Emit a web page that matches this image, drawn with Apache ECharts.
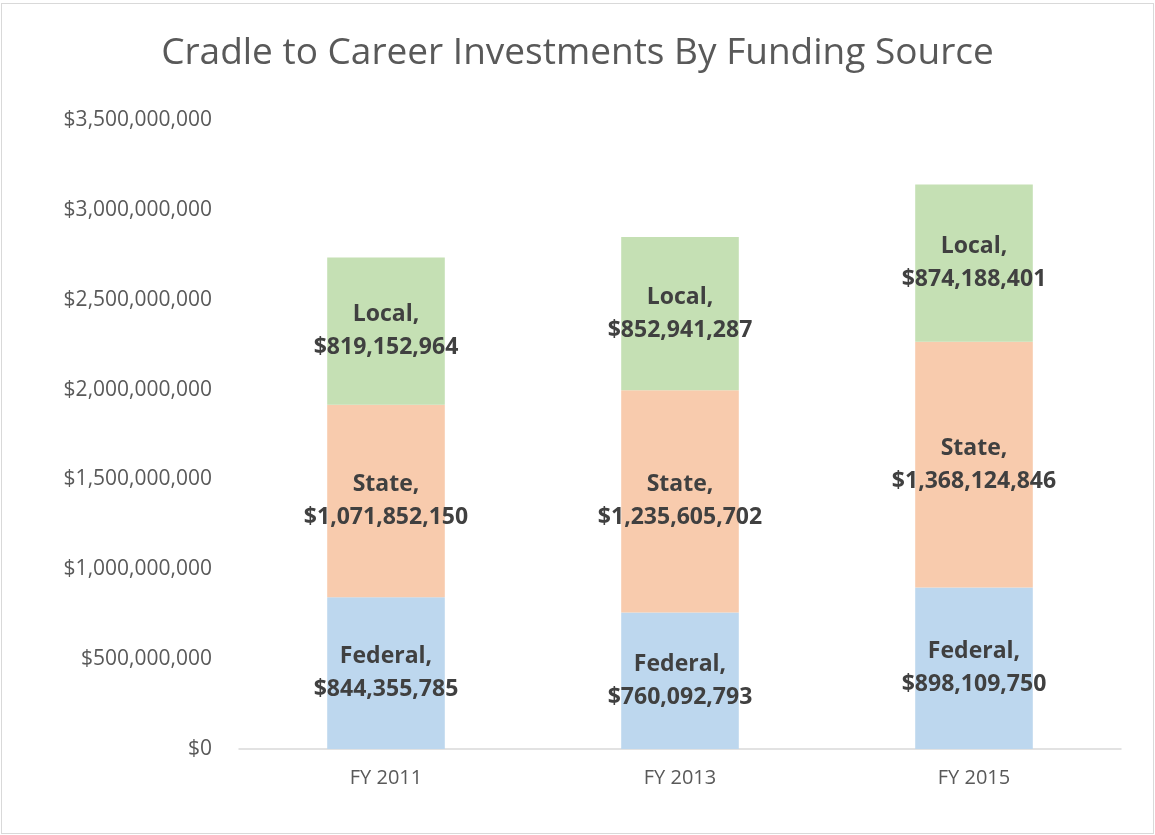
<!DOCTYPE html>
<html>
<head>
<meta charset="utf-8">
<script src="https://cdn.jsdelivr.net/npm/echarts@6/dist/echarts.min.js"></script>
<style>
  html, body { margin: 0; padding: 0; background: #fff; }
  #chart { position: absolute; left: 1px; top: 3px; width: 1151px; height: 829px; border: 1px solid #d9d9d9; }
</style>
</head>
<body>
<div id="chart"></div>
<script>
const years = ['FY 2011', 'FY 2013', 'FY 2015']
const federal = [844355785, 760092793, 898109750]
const state = [1071852150, 1235605702, 1368124846]
const local = [819152964, 852941287, 874188401]

const fmt = (v) => '$' + Math.round(v).toLocaleString('en-US')

const chart = echarts.init(document.getElementById('chart'))

const labelStyle = {
  show: true,
  position: 'inside',
  fontFamily: 'Open Sans',
  fontWeight: 'bold',
  fontSize: 23,
  lineHeight: 33,
  color: '#404040'
}

const makeSeries = (name, data, color) => ({
  name,
  type: 'bar',
  stack: 'total',
  data,
  barWidth: '40%',
  itemStyle: { color },
  label: { ...labelStyle, formatter: (p) => name + ',\n' + fmt(p.value) }
})

chart.setOption({
  animation: false,
  title: {
    text: 'Cradle to Career Investments By Funding Source',
    left: 'center',
    top: 26,
    textStyle: { fontFamily: 'Open Sans', fontWeight: 'normal', fontSize: 37, color: '#595959' }
  },
  grid: { left: 237, right: 32, top: 116, bottom: 84 },
  xAxis: {
    type: 'category',
    data: years,
    axisLine: { lineStyle: { color: '#d9d9d9', width: 1.5 } },
    axisTick: { show: false },
    axisLabel: { fontFamily: 'Open Sans', fontSize: 20, color: '#595959', margin: 19 }
  },
  yAxis: {
    type: 'value',
    min: 0,
    max: 3500000000,
    interval: 500000000,
    splitLine: { show: false },
    axisLine: { show: false },
    axisTick: { show: false },
    axisLabel: { fontFamily: 'Open Sans', fontSize: 21, color: '#595959', margin: 27, formatter: fmt }
  },
  series: [
    makeSeries('Federal', federal, '#bdd7ee'),
    makeSeries('State', state, '#f8cbad'),
    makeSeries('Local', local, '#c5e0b4')
  ]
})
</script>
</body>
</html>
